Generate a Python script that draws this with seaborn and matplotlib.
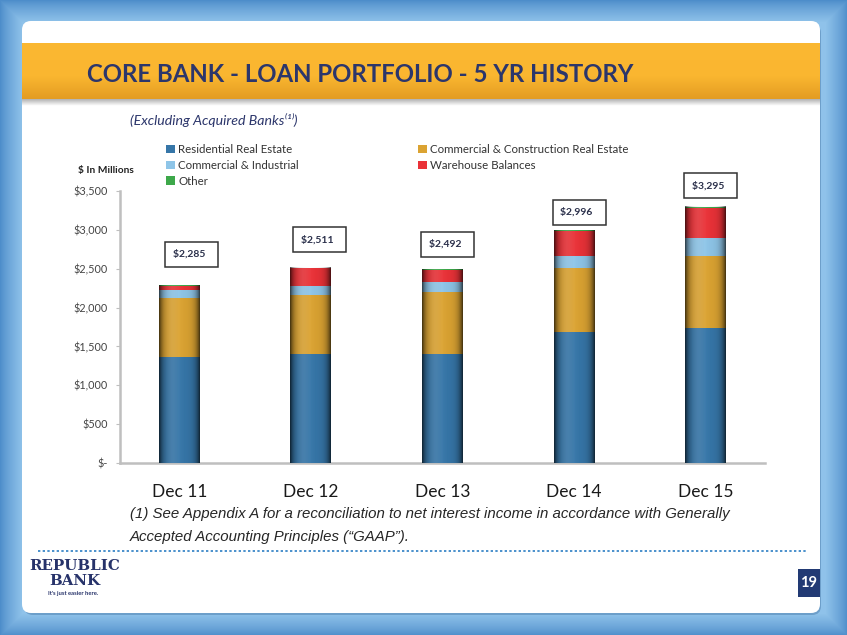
import numpy as np
import pandas as pd
import matplotlib
matplotlib.use("Agg")
import matplotlib.pyplot as plt
import seaborn as sns
from matplotlib.patches import FancyBboxPatch, Rectangle, Patch
from matplotlib.colors import to_rgb
from matplotlib.ticker import FuncFormatter

# ---------------- data ----------------
periods = ["Dec 11", "Dec 12", "Dec 13", "Dec 14", "Dec 15"]
residential = [1362, 1409, 1398, 1688, 1735]
commercial_cre = [755, 748, 803, 825, 923]
commercial_ind = [108, 118, 125, 150, 235]
warehouse = [50, 230, 160, 325, 392]
other = [10, 6, 6, 8, 10]
totals = [2285, 2511, 2492, 2996, 3295]
total_labels = ["$2,285", "$2,511", "$2,492", "$2,996", "$3,295"]
series_names = ["Residential Real Estate", "Commercial & Construction Real Estate",
                "Commercial & Industrial", "Warehouse Balances", "Other"]
y_ticks = [0, 500, 1000, 1500, 2000, 2500, 3000, 3500]

# label-box placement (offset from bar top, in pixels) -- layout only
label_dx_px = [12, 9, 5, 5, 5]
label_dy_px = [31, 28, 25, 18, 21]

colors = {
    "Residential Real Estate": "#3676a8",
    "Commercial & Construction Real Estate": "#dba332",
    "Commercial & Industrial": "#8ec5e8",
    "Warehouse Balances": "#ea3238",
    "Other": "#3da84a",
}

sns.set_theme(style="white")
plt.rcParams["font.family"] = ["Lato", "DejaVu Sans"]

W, H = 847, 635
fig = plt.figure(figsize=(W / 100, H / 100), dpi=100)

# ---------------- background (pixel coordinates) ----------------
bg = fig.add_axes([0, 0, 1, 1], zorder=-10)
bg.set_xlim(0, W)
bg.set_ylim(H, 0)
bg.axis("off")

yy, xx = np.mgrid[0:H, 0:W]
dist = np.minimum.reduce([xx, W - xx, yy, H - yy]).astype(float)
t = np.clip(dist / 22.0, 0, 1) ** 0.8
c_out = np.array(to_rgb("#4d8dca"))
c_in = np.array(to_rgb("#8fc2ea"))
grad = c_out[None, None, :] * (1 - t[..., None]) + c_in[None, None, :] * t[..., None]
bg.imshow(grad, extent=[0, W, H, 0], aspect="auto", zorder=0)

# panel shadow + panel
bg.add_patch(FancyBboxPatch((24, 24), 797, 591, boxstyle="round,pad=0,rounding_size=9",
                            fc="#2f5f90", ec="none", alpha=0.35, zorder=1))
bg.add_patch(FancyBboxPatch((22, 21), 798, 592, boxstyle="round,pad=0,rounding_size=9",
                            fc="white", ec="none", zorder=2))

# banner shadow
sh = np.linspace(0.35, 0.0, 20)[:, None, None] * np.ones((1, 2, 1))
sh_img = np.concatenate([np.zeros((20, 2, 3)), sh], axis=2)
bg.imshow(sh_img, extent=[22, 820, 106, 98], aspect="auto", zorder=3)
# banner gradient
tb = np.linspace(0, 1, 60)[:, None]
top = np.array(to_rgb("#fbb832"))
mid = np.array(to_rgb("#fab630"))
bot = np.array(to_rgb("#e39c22"))
ban = np.where(tb[..., None] < 0.6,
               top + (mid - top) * (tb[..., None] / 0.6),
               mid + (bot - mid) * ((tb[..., None] - 0.6) / 0.4))
ban = np.repeat(ban, 2, axis=1)
bg.imshow(ban, extent=[22, 820, 99, 43], aspect="auto", zorder=4)

navy = "#2c366b"
bg.text(87, 75, "CORE BANK - LOAN PORTFOLIO - 5 YR HISTORY", fontsize=17.3,
        fontweight="bold", color=navy, va="center", ha="left", zorder=5,
        family=["Lato", "DejaVu Sans"])
bg.text(130, 120, "(Excluding Acquired Banks⁽¹⁾)", fontsize=10.2, style="italic",
        color=navy, va="center", ha="left", zorder=5, family=["Lato", "DejaVu Sans"])

bg.text(78, 171, "$ In Millions", fontsize=7.3, fontweight="bold", color="#222222",
        va="center", ha="left", zorder=5)

# footnote
foot_font = ["Liberation Sans", "DejaVu Sans"]
bg.text(130, 514, "(1) See Appendix A for a reconciliation to net interest income in accordance with Generally",
        fontsize=10.85, style="italic", color="#262626", va="center", ha="left", zorder=5, family=foot_font)
bg.text(130, 537, "Accepted Accounting Principles (“GAAP”).",
        fontsize=10.85, style="italic", color="#262626", va="center", ha="left", zorder=5, family=foot_font)

# dotted separator
bg.plot([38, 806], [551, 551], linestyle=(0, (1.2, 1.2)), color="#4a90cc", lw=1.4, zorder=5)

# logo
logo_font = ["DejaVu Serif", "Liberation Serif"]
bg.text(75, 566, "REPUBLIC", fontsize=10.8, fontweight="heavy",
        color="#27336a", ha="center", va="center", zorder=5, family=logo_font)
bg.text(75, 581, "BANK", fontsize=10.8, fontweight="heavy",
        color="#27336a", ha="center", va="center", zorder=5, family=logo_font)
bg.text(73, 594, "It's just easier here.", fontsize=4.2, fontweight="bold", color="#27336a",
        ha="center", va="center", zorder=5)

# page number
bg.add_patch(Rectangle((798, 569), 22, 28, fc="#223a74", ec="none", zorder=5))
bg.text(809, 583, "19", fontsize=10.5, fontweight="bold", color="white", ha="center",
        va="center", zorder=6)

# ---------------- chart ----------------
ax = fig.add_axes([120 / W, 1 - 463 / H, 645 / W, 272 / H], zorder=1)
ax.patch.set_alpha(0)

df = pd.DataFrame({
    "period": periods,
    "Residential Real Estate": residential,
    "Commercial & Construction Real Estate": commercial_cre,
    "Commercial & Industrial": commercial_ind,
    "Warehouse Balances": warehouse,
    "Other": other,
})
cum = df[series_names].cumsum(axis=1)

# draw cumulative bars, tallest first, so they stack visually
for i, name in enumerate(reversed(series_names)):
    sns.barplot(x=df["period"], y=cum[name], color=colors[name], width=0.31,
                saturation=1, ax=ax, zorder=2 + i, edgecolor="none", linewidth=0)

# cylinder shading, once per full bar (the first drawn = tallest patches)
n = 96
u = np.linspace(-1, 1, n)
shade = np.zeros((1, n, 4))
shade[0, :, 3] = 0.62 * np.abs(u) ** 5 + 0.08 * np.abs(u)
hl = np.zeros((1, n, 4))
hl[0, :, :3] = 1.0
hl[0, :, 3] = 0.10 * np.exp(-((u + 0.35) / 0.35) ** 2)
full_bars = list(ax.patches)[: len(periods)]
for p in full_bars:
    x0 = p.get_x()
    w = p.get_width()
    h = p.get_height()
    ax.imshow(shade, extent=[x0, x0 + w, 0, h], aspect="auto", zorder=20,
              interpolation="bilinear")
    ax.imshow(hl, extent=[x0, x0 + w, 0, h], aspect="auto", zorder=20,
              interpolation="bilinear")

ax.set_xlim(-0.45, len(periods) - 0.55)
ax.set_ylim(0, 3500)
ax.set_yticks(y_ticks)
ax.yaxis.set_major_formatter(FuncFormatter(lambda v, _: "$-" if v == 0 else f"${v:,.0f}"))
ax.set_xlabel("")
ax.set_ylabel("")
for s in ["top", "right"]:
    ax.spines[s].set_visible(False)
ax.spines["left"].set_color("#bfbfbf")
ax.spines["left"].set_linewidth(1.8)
ax.spines["bottom"].set_color("#bfbfbf")
ax.spines["bottom"].set_linewidth(1.8)
ax.tick_params(axis="y", which="major", left=True, length=3, width=0.8, color="#bfbfbf",
               labelsize=7, labelcolor="#444444", pad=6)
ax.tick_params(axis="x", bottom=False, labelcolor="#1a1a1a", pad=9)
for lab in ax.get_xticklabels():
    lab.set_family(["Lato", "DejaVu Sans"])
    lab.set_fontsize(12.5)
for lab in ax.get_yticklabels():
    lab.set_family(["Lato", "DejaVu Sans"])
    lab.set_fontsize(7.8)
ax.grid(False)

# total labels in boxes
for i, (tot, lab) in enumerate(zip(totals, total_labels)):
    ax.annotate(lab + "  ", xy=(i, tot),
                xytext=(label_dx_px[i] * 0.72, label_dy_px[i] * 0.72),
                textcoords="offset points",
                ha="center", va="center", fontsize=7.5, fontweight="bold", color="#2a2f4a",
                bbox=dict(boxstyle="square,pad=0.75", fc="white", ec="#333333", lw=1.1),
                zorder=30, annotation_clip=False)

# legends
l1 = ["Residential Real Estate", "Commercial & Industrial", "Other"]
l2 = ["Commercial & Construction Real Estate", "Warehouse Balances"]
h1 = [Patch(fc=colors[n_], ec="none") for n_ in l1]
h2 = [Patch(fc=colors[n_], ec="none") for n_ in l2]
leg_kw = dict(frameon=False, fontsize=8.3, handlelength=0.75, handleheight=0.75,
              handletextpad=0.3, labelspacing=0.42, borderpad=0, borderaxespad=0,
              labelcolor="#333333")
fig.legend(h1, l1, loc="upper left", bbox_to_anchor=(166 / W, 1 - 144 / H), **leg_kw)
fig.legend(h2, l2, loc="upper left", bbox_to_anchor=(418 / W, 1 - 144 / H), **leg_kw)

fig.savefig("out.png", dpi=100)
